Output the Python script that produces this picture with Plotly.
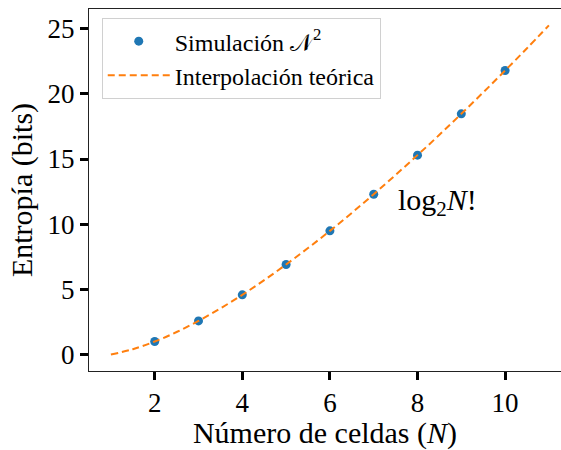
import plotly.graph_objects as go

# Simulation data (N cells -> entropy in bits)
n_sim = [2, 3, 4, 5, 6, 7, 8, 9, 10]
h_sim = [1.00, 2.58, 4.58, 6.91, 9.49, 12.30, 15.30, 18.47, 21.79]

# Theoretical interpolation curve
n_fit = [1, 1.5, 2, 2.5, 3, 3.5, 4, 4.5, 5, 5.5, 6, 6.5, 7, 7.5, 8, 8.5, 9, 9.5, 10, 10.5, 11]
h_fit = [0.00, 0.41, 1.00, 1.73, 2.58, 3.54, 4.58, 5.71, 6.91, 8.17, 9.49, 10.87,
         12.30, 13.78, 15.30, 16.86, 18.47, 20.11, 21.79, 23.50, 25.25]

x_ticks = [2, 4, 6, 8, 10]
y_ticks = [0, 5, 10, 15, 20, 25]

FONT = "Liberation Serif"

fig = go.Figure()
fig.add_trace(go.Scatter(
    x=n_sim, y=h_sim, mode="markers",
    marker=dict(color="#1f77b4", size=9),
    name="Simulación 𝒩<sup>2</sup>",
))
fig.add_trace(go.Scatter(
    x=n_fit, y=h_fit, mode="lines",
    line=dict(color="#ff7f0e", width=2, dash="7px,4px", shape="spline"),
    name="Interpolación teórica",
))

fig.add_annotation(
    x=7.5, y=11.7, xref="x", yref="y", text="log<sub>2</sub><i>N</i>!",
    showarrow=False, xanchor="left", yanchor="middle",
    font=dict(family=FONT, size=30, color="black"),
)

fig.update_layout(
    width=561, height=450,
    margin=dict(l=89, r=0, t=9, b=79),
    paper_bgcolor="white", plot_bgcolor="white",
    font=dict(family=FONT, size=26, color="black"),
    showlegend=True,
    legend=dict(
        x=0.027, y=0.975, xanchor="left", yanchor="top",
        bgcolor="rgba(255,255,255,0.8)", bordercolor="#d0d0d0", borderwidth=1,
        font=dict(family=FONT, size=24, color="black"),
        itemwidth=62, tracegroupgap=0,
    ),
    xaxis=dict(
        range=[0.5, 11.276], tickvals=x_ticks, ticks="outside", ticklen=8, tickwidth=2.5,
        tickcolor="black", showline=True, linecolor="#222", linewidth=1, mirror=True,
        showgrid=False, zeroline=False,
        title=dict(text="Número de celdas (<i>N</i>)", font=dict(size=30), standoff=0),
        tickfont=dict(size=27),
    ),
    yaxis=dict(
        range=[-1.26, 26.51], tickvals=y_ticks, ticks="outside", ticklen=8, tickwidth=2.5,
        tickcolor="black", showline=True, linecolor="#222", linewidth=1, mirror=False,
        showgrid=False, zeroline=False,
        title=dict(text="Entropía (bits)", font=dict(size=30), standoff=6),
        tickfont=dict(size=27),
    ),
)

fig.write_html("out.html")
